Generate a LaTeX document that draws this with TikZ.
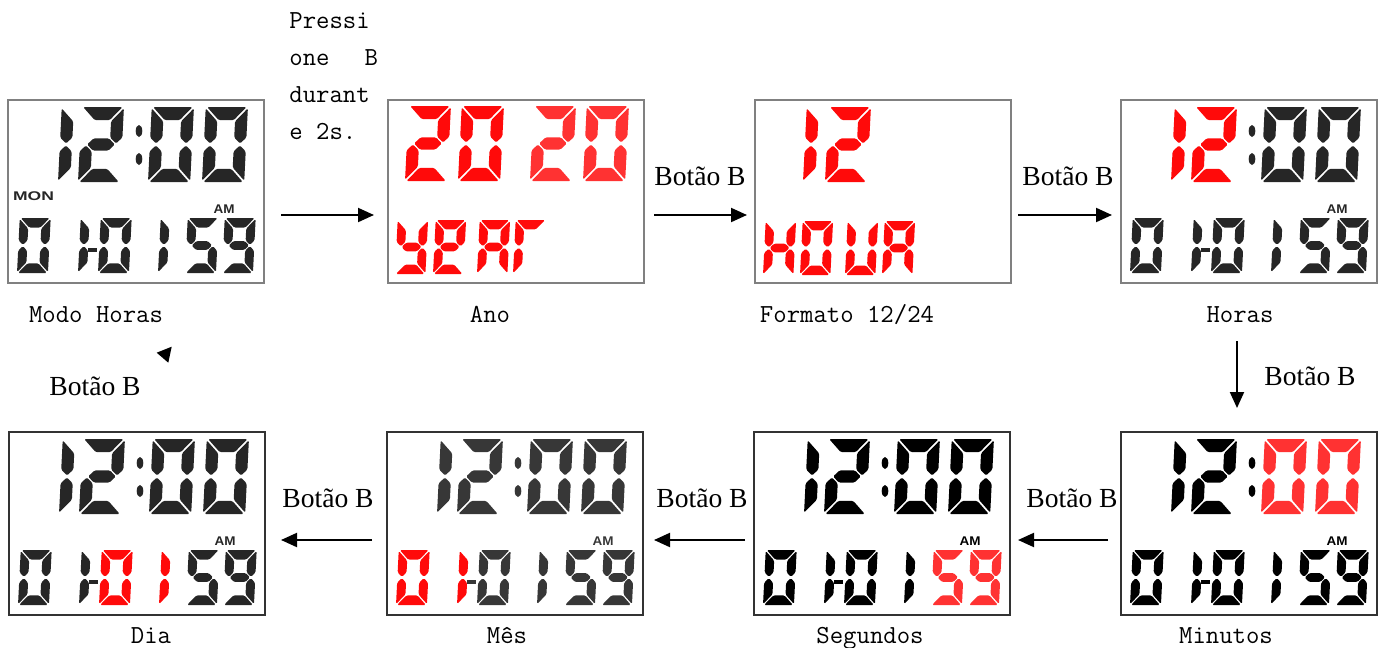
\documentclass[tikz,border=0pt]{standalone}
\usepackage{fontspec}
\setmainfont{Liberation Serif}
\newfontfamily\lcdsans{Liberation Sans}
\usetikzlibrary{arrows.meta,positioning,calc}

\definecolor{lcdred}{RGB}{255,10,10}
\definecolor{lcdpink}{RGB}{255,50,50}
\definecolor{lcdgray}{RGB}{38,38,38}
\definecolor{lcdslate}{RGB}{55,55,55}

% segments of one digit, box 9 x 16
\newcommand\lcdsega{\fill (0.3,16) -- (8.7,16) -- (6.1,13.2) -- (2.9,13.2) -- cycle;}
\newcommand\lcdsegb{\fill (9,15.72) -- (6.4,12.92) -- (6.4,9.5) -- (7.7,8.2) -- (9,9.5) -- cycle;}
\newcommand\lcdsegc{\fill (9,0.28) -- (6.4,3.08) -- (6.4,6.5) -- (7.7,7.8) -- (9,6.5) -- cycle;}
\newcommand\lcdsegd{\fill (0.3,0) -- (8.7,0) -- (6.1,2.8) -- (2.9,2.8) -- cycle;}
\newcommand\lcdsege{\fill (0,0.28) -- (2.6,3.08) -- (2.6,6.5) -- (1.3,7.8) -- (0,6.5) -- cycle;}
\newcommand\lcdsegf{\fill (0,15.72) -- (2.6,12.92) -- (2.6,9.5) -- (1.3,8.2) -- (0,9.5) -- cycle;}
\newcommand\lcdsegg{\fill (1.55,8) -- (2.85,9.3) -- (6.15,9.3) -- (7.45,8) -- (6.15,6.7) -- (2.85,6.7) -- cycle;}

% x, bottom y, height, segments, colour
\newcommand\lcddigit[5]{%
  \begin{scope}[shift={(#1,#2)}, scale=#3/16, xslant=0.05, yscale=-1, fill=#5,
      rounded corners=0.7pt]
    \foreach \s in {#4} {\csname lcdseg\s\endcsname}
  \end{scope}}

% hours, minutes, month, day, seconds, rest, name
\newcommand\lcdclock[7]{%
  \lcddigit{50}{82}{75}{f,e}{#1}
  \lcddigit{70}{82}{75}{a,b,g,e,d}{#1}
  \fill[#6] (131,31) ellipse [x radius=3.3, y radius=6];
  \fill[#6] (131,59) ellipse [x radius=3.3, y radius=6];
  \lcddigit{140}{82}{75}{a,b,c,d,e,f}{#2}
  \lcddigit{194}{82}{75}{a,b,c,d,e,f}{#2}
  \lcddigit{9}{173}{55}{a,b,c,d,e,f}{#3}
  \lcddigit{70}{173}{55}{f,e}{#3}
  \fill[#6] (80,148) rectangle (89,152);
  \lcddigit{90}{173}{55}{a,b,c,d,e,f}{#4}
  \lcddigit{150}{173}{55}{f,e}{#4}
  \lcddigit{177}{173}{55}{a,f,g,c,d}{#5}
  \lcddigit{214}{173}{55}{a,b,c,d,f,g}{#5}
  \node[tag, text=#6] (#7am) at (216,109.5) {AM};
}

\tikzset{
  panel/.style={draw=black!50, line width=1pt, minimum width=128pt,
    minimum height=91.5pt, anchor=north west, inner sep=0pt, outer sep=0pt},
  lowpanel/.style={panel, draw=black!80},
  flow/.style={-{Triangle[length=8pt,width=7pt]}, line width=1pt},
  btn/.style={font=\fontsize{13.8}{16}\selectfont, anchor=base, inner sep=0pt},
  modename/.style={font=\ttfamily\fontsize{13}{16}\selectfont, anchor=base, inner sep=0pt},
  tag/.style={font=\lcdsans\bfseries\fontsize{6.3}{7}\selectfont, inner sep=0pt, xscale=1.07}
}

\begin{document}
\begin{tikzpicture}[x=0.5pt, y=-0.5pt]
  \useasboundingbox (0,0) rectangle (1382,648);

  % panels
  \node[panel] (modo) at (8,100) {};
  \node[panel] (ano) at (388,100) {};
  \node[panel] (formato) at (755,100) {};
  \node[panel] (horas) at (1121,100) {};
  \node[lowpanel] (dia) at (9,432) {};
  \node[lowpanel] (mes) at (387,432) {};
  \node[lowpanel] (seg) at (754,432) {};
  \node[lowpanel] (min) at (1121,432) {};

  % faces
  \begin{scope}[shift={(modo.north west)}]
    \lcdclock{lcdgray}{lcdgray}{lcdgray}{lcdgray}{lcdgray}{lcdgray}{modo}
    \node[tag, text=lcdgray, xscale=1.3] (mon) at (25.5,96) {MON};
  \end{scope}
  \begin{scope}[shift={(ano.north west)}]
    \lcddigit{17}{81}{75}{a,b,g,e,d}{lcdred}
    \lcddigit{70}{81}{75}{a,b,c,d,e,f}{lcdred}
    \lcddigit{142}{81}{75}{a,b,g,e,d}{lcdpink}
    \lcddigit{195}{81}{75}{a,b,c,d,e,f}{lcdpink}
    \lcddigit{7}{174}{54}{b,c,d,f,g}{lcdred}
    \lcddigit{45}{174}{54}{a,b,d,e,f,g}{lcdred}
    \lcddigit{89}{174}{54}{a,b,c,e,f,g}{lcdred}
    \lcddigit{125}{174}{54}{a,e,f}{lcdred}
  \end{scope}
  \begin{scope}[shift={(formato.north west)}]
    \lcddigit{48}{82}{75}{f,e}{lcdred}
    \lcddigit{70}{82}{75}{a,b,g,e,d}{lcdred}
    \lcddigit{8}{175}{54}{b,c,e,f,g}{lcdred}
    \lcddigit{45}{175}{54}{a,b,c,d,e,f}{lcdred}
    \lcddigit{90}{175}{54}{b,c,d,e,f}{lcdred}
    \lcddigit{127}{175}{54}{a,b,c,e,f,g}{lcdred}
  \end{scope}
  \begin{scope}[shift={(horas.north west)}]
    \lcdclock{lcdred}{lcdgray}{lcdgray}{lcdgray}{lcdgray}{lcdgray}{horas}
  \end{scope}
  \begin{scope}[shift={(min.north west)}]
    \lcdclock{black}{lcdpink}{black}{black}{black}{black}{min}
  \end{scope}
  \begin{scope}[shift={(seg.north west)}]
    \lcdclock{black}{black}{black}{black}{lcdpink}{black}{seg}
  \end{scope}
  \begin{scope}[shift={(mes.north west)}]
    \lcdclock{lcdslate}{lcdslate}{lcdred}{lcdslate}{lcdslate}{lcdslate}{mes}
  \end{scope}
  \begin{scope}[shift={(dia.north west)}]
    \lcdclock{lcdgray}{lcdgray}{lcdgray}{lcdred}{lcdgray}{lcdgray}{dia}
  \end{scope}

  % captions
  \node[modename] (lmodo) at (96,322) {Modo Horas};
  \node[modename] (lano) at (490,322) {Ano};
  \node[modename] (lformato) at (847,322) {Formato 12/24};
  \node[modename] (lhoras) at (1240,322) {Horas};
  \node[modename] (ldia) at (151,643) {Dia};
  \node[modename] (lmes) at (507,643) {Mês};
  \node[modename] (lseg) at (870,643) {Segundos};
  \node[modename] (lmin) at (1226,643) {Minutos};

  % arrows
  \draw[flow] ([shift={(17,115)}]modo.north east) -- ([shift={(-14,115)}]ano.north west);
  \draw[flow] ([shift={(10,115)}]ano.north east) -- ([shift={(-8,115)}]formato.north west);
  \draw[flow] ([shift={(7,115)}]formato.north east) -- ([shift={(-9,115)}]horas.north west);
  \draw[flow] ([shift={(-12,58)}]horas.south) -- ([shift={(-12,-24)}]min.north);
  \draw[flow] ([shift={(-13,108)}]min.north west) -- ([shift={(8,108)}]seg.north east);
  \draw[flow] ([shift={(-9,108)}]seg.north west) -- ([shift={(11,108)}]mes.north east);
  \draw[flow] ([shift={(-15,108)}]mes.north west) -- ([shift={(16,108)}]dia.north east);
  \fill (156.7,352.7) -- (171.7,346.7) -- (168.3,362.7) -- cycle;

  \node[modename, anchor=north west, align=left, font=\ttfamily\fontsize{13}{18.5}\selectfont]
    (press) at (289,12) {Pressi\\one\hspace{17.5pt}B\\durant\\e 2s.};
  \node[btn] (b1) at (700,185) {Botão B};
  \node[btn] (b2) at (1068,185) {Botão B};
  \node[btn] (b3) at (1310,385) {Botão B};
  \node[btn] (b4) at (1072,507) {Botão B};
  \node[btn] (b5) at (702,507) {Botão B};
  \node[btn] (b6) at (328,507) {Botão B};
  \node[btn] (b7) at (95,395) {Botão B};
\end{tikzpicture}
\end{document}
